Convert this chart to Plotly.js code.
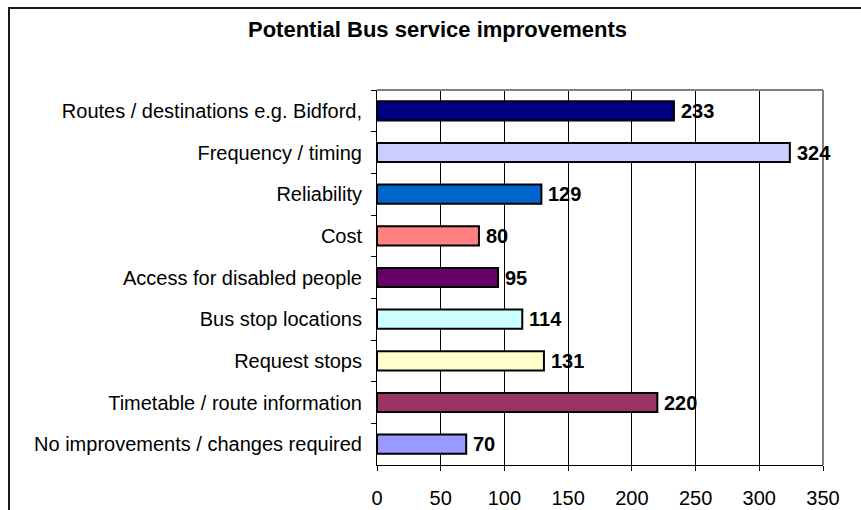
<!DOCTYPE html>
<html>
<head>
<meta charset="utf-8">
<script src="https://cdn.plot.ly/plotly-3.0.1.min.js"></script>
<style>html,body{margin:0;padding:0;background:#fff;}#chart{width:861px;height:510px;}</style>
</head>
<body>
<div id="chart"></div>
<script>
const categories = [
  "Routes / destinations e.g. Bidford,",
  "Frequency / timing",
  "Reliability",
  "Cost",
  "Access for disabled people",
  "Bus stop locations",
  "Request stops",
  "Timetable / route information",
  "No improvements / changes required"
];
const values = [233, 324, 129, 80, 95, 114, 131, 220, 70];
const barColors = ["#000080", "#CCCCFF", "#0066CC", "#FF8080", "#660066", "#CCFFFF", "#FFFFCC", "#993366", "#9999FF"];
const xTicks = [0, 50, 100, 150, 200, 250, 300, 350];

const W = 861, H = 510;
const L = 377, R = 823, T = 90, B = 465;
const px = x => (x - L) / (R - L);
const py = y => (B - y) / (B - T);

const font = "Liberation Sans, Arial, Helvetica, sans-serif";

const trace = {
  type: "bar",
  orientation: "h",
  x: values,
  y: categories,
  marker: { color: barColors, line: { color: "#000000", width: 2 } },
  hoverinfo: "none"
};

const valueLabels = values.map((v, i) => ({
  x: v, y: categories[i], xref: "x", yref: "y",
  text: "<b>" + v + "</b>",
  showarrow: false, xanchor: "left", yanchor: "middle",
  xshift: 5,
  font: { family: font, size: 20, color: "#000000" }
}));

const layout = {
  width: W, height: H,
  margin: { l: L, r: W - R, t: T, b: H - B, pad: 0 },
  paper_bgcolor: "#ffffff",
  plot_bgcolor: "#ffffff",
  showlegend: false,
  bargap: 0.54,
  font: { family: font, size: 20, color: "#000000" },
  title: {
    text: "<b>Potential Bus service improvements</b>",
    font: { family: font, size: 22, color: "#000000" },
    xref: "container", yref: "container",
    x: 437.5 / W, xanchor: "center",
    y: 1 - 29 / H, yanchor: "middle"
  },
  xaxis: {
    range: [0, 350],
    tickvals: xTicks,
    ticktext: xTicks.map(String),
    showgrid: true, gridcolor: "#000000", gridwidth: 1,
    zeroline: false,
    showline: true, linecolor: "#000000", linewidth: 1,
    ticks: "outside", ticklen: 5, tickcolor: "#000000", tickwidth: 1,
    ticklabelstandoff: 10,
    tickfont: { family: font, size: 20, color: "#000000" },
    fixedrange: true
  },
  yaxis: {
    type: "category",
    autorange: "reversed",
    showgrid: false,
    zeroline: false,
    showline: true, linecolor: "#000000", linewidth: 1,
    ticks: "outside", ticklen: 5, tickcolor: "#000000", tickwidth: 1,
    tickson: "boundaries",
    ticklabelstandoff: 10,
    tickfont: { family: font, size: 20, color: "#000000" },
    fixedrange: true
  },
  annotations: valueLabels,
  shapes: [
    { type: "line", xref: "paper", yref: "paper", x0: 0, x1: 1, y0: 1, y1: 1,
      line: { color: "#808080", width: 2 }, layer: "above" },
    { type: "line", xref: "paper", yref: "paper", x0: 1, x1: 1, y0: 0, y1: 1,
      line: { color: "#808080", width: 2 }, layer: "above" },
    { type: "line", xref: "paper", yref: "paper", x0: px(9), x1: px(9), y0: py(8), y1: py(H + 20),
      line: { color: "#1a1a1a", width: 2 }, layer: "above" },
    { type: "line", xref: "paper", yref: "paper", x0: px(8), x1: px(W + 20), y0: py(8), y1: py(8),
      line: { color: "#1a1a1a", width: 2 }, layer: "above" }
  ]
};

Plotly.newPlot("chart", [trace], layout, { staticPlot: true, displayModeBar: false });
</script>
</body>
</html>
